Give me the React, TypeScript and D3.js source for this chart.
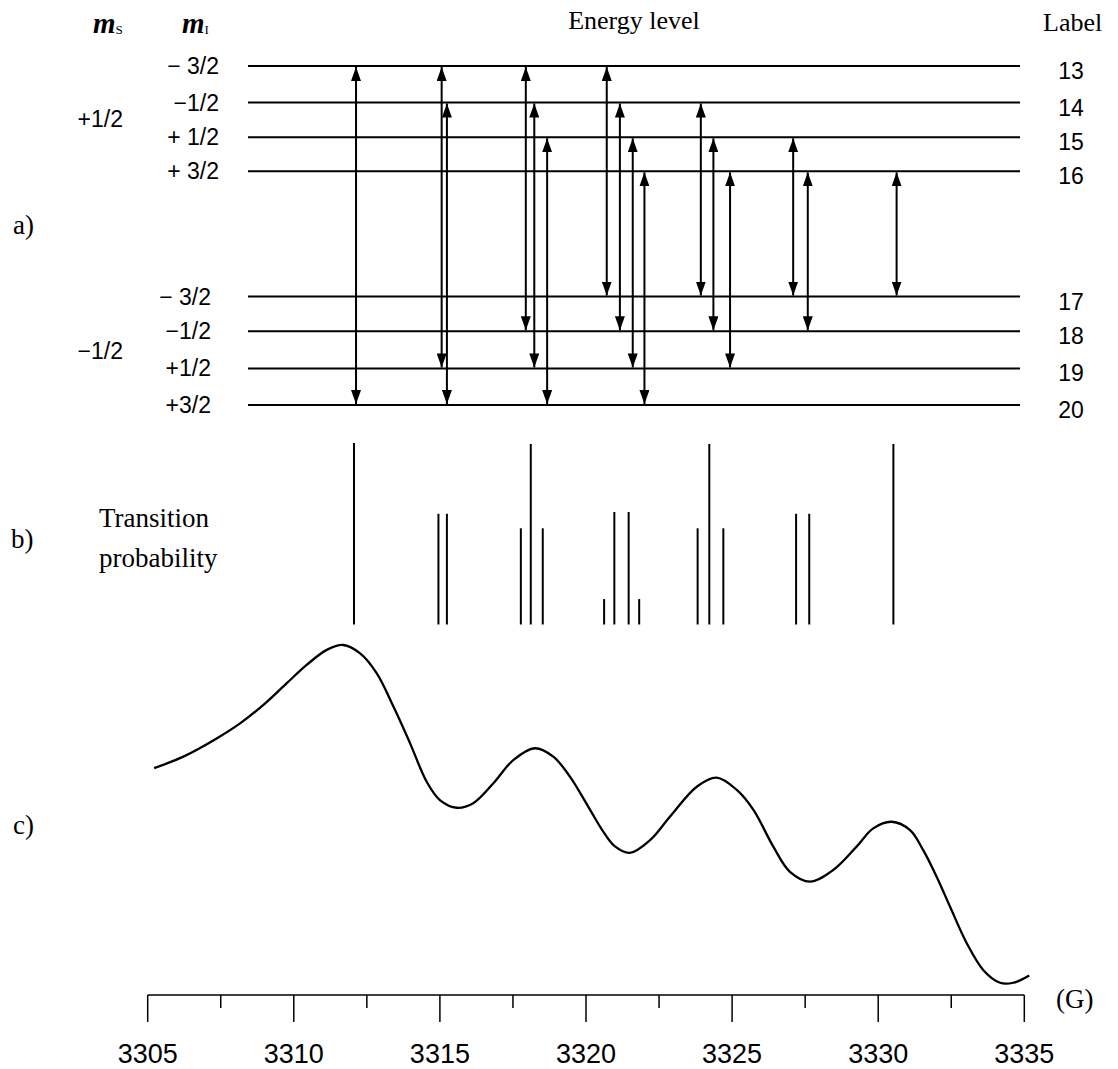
import React from "react";
import * as d3 from "d3";

// ---- Data ----
const levelLabels = [13, 14, 15, 16, 17, 18, 19, 20];
const levelEnergy = [9.75, 8.7, 7.7, 6.72, 3.12, 2.12, 1.05, 0];
const levelMI = ["− 3/2", "−1/2", "+ 1/2", "+ 3/2", "− 3/2", "−1/2", "+1/2", "+3/2"];
const msLabels = ["+1/2", "−1/2"];

const arrowField = [3312.13, 3315.06, 3315.24, 3317.94, 3318.23, 3318.67, 3320.71, 3321.16, 3321.6, 3322.0, 3323.93, 3324.36, 3324.93, 3327.09, 3327.59, 3330.63];
const arrowUpper = [13, 13, 14, 13, 14, 15, 13, 14, 15, 16, 14, 15, 16, 15, 16, 16];
const arrowLower = [20, 19, 20, 18, 19, 20, 17, 18, 19, 20, 17, 18, 19, 17, 18, 17];

const stickField = [3312.06, 3314.95, 3315.24, 3317.77, 3318.11, 3318.52, 3320.62, 3320.97, 3321.46, 3321.82, 3323.82, 3324.22, 3324.7, 3327.19, 3327.64, 3330.52];
const stickProb = [1.0, 0.61, 0.61, 0.53, 0.995, 0.53, 0.14, 0.62, 0.62, 0.14, 0.53, 0.995, 0.53, 0.61, 0.61, 0.995];

const spectrumField = [3305.22, 3306.22, 3307.36, 3308.16, 3308.96, 3309.76, 3310.44, 3311.13, 3311.69, 3312.27, 3312.84, 3313.41, 3313.98, 3314.55, 3315.0, 3315.58, 3316.14, 3316.83, 3317.51, 3318.25, 3318.88, 3319.45, 3320.14, 3320.55, 3320.97, 3321.5, 3322.2, 3322.87, 3323.79, 3324.47, 3325.16, 3325.73, 3326.41, 3326.98, 3327.67, 3328.46, 3329.26, 3329.83, 3330.46, 3331.09, 3331.54, 3332.0, 3332.46, 3333.03, 3333.6, 3334.17, 3334.62, 3335.17];
const spectrumIntensity = [64.8, 68.1, 73.3, 77.6, 82.9, 89.1, 94.3, 98.6, 100, 97.6, 91.9, 82.4, 71.9, 60.9, 55.7, 53.5, 54.8, 60.5, 67.1, 70.5, 68.1, 62.4, 52.9, 47.2, 42.6, 40.6, 44.3, 50.9, 59.5, 62.1, 58.6, 52.9, 42.4, 35.2, 32.4, 35.7, 42.4, 47.6, 49.5, 47.1, 41.4, 33.8, 25.2, 14.8, 7.1, 3.5, 3.5, 5.6];

const majorTicks = [3305, 3310, 3315, 3320, 3325, 3330, 3335];
const minorTicks = [3307.5, 3312.5, 3317.5, 3322.5, 3327.5, 3332.5];

// ---- Layout ----
const W = 1118;
const H = 1069;
const SANS = "'Liberation Sans', Arial, Helvetica, sans-serif";
const SERIF = "'Liberation Serif', 'Times New Roman', Times, serif";

const x = d3.scaleLinear().domain([3305, 3335]).range([147.7, 1024.3]);
const yLevel = d3.scaleLinear().domain([0, 9.75]).range([405, 66]);
const yStick = d3.scaleLinear().domain([0, 1]).range([624.5, 443]);
const ySpec = d3.scaleLinear().domain([0, 100]).range([995, 645]);

const levelX0 = 248;
const levelX1 = 1020;
const axisY = 995;

export default function App() {
  const levelY = (lab: number) => yLevel(levelEnergy[levelLabels.indexOf(lab)]);
  const specPts = spectrumField.map((f, i) => [f, spectrumIntensity[i]] as [number, number]);
  const line = d3
    .line<[number, number]>()
    .x((d) => x(d[0]))
    .y((d) => ySpec(d[1]))
    .curve(d3.curveCatmullRom.alpha(0.5));

  return (
    <svg
      width={W}
      height={H}
      viewBox={`0 0 ${W} ${H}`}
      style={{ position: "absolute", left: 0, top: 0, background: "#fff" }}
    >
      <defs>
        <marker
          id="ah"
          viewBox="0 0 14 10"
          refX={14}
          refY={5}
          markerWidth={14}
          markerHeight={10}
          markerUnits="userSpaceOnUse"
          orient="auto-start-reverse"
        >
          <path d="M0,0 L14,5 L0,10 Z" fill="#000" />
        </marker>
      </defs>
      <rect x={0} y={0} width={W} height={H} fill="#fff" />

      {/* Headers */}
      <text x={93} y={33} fontFamily={SERIF} fontStyle="italic" fontWeight="bold" fontSize={29} fill="#000">
        m<tspan fontStyle="normal" fontWeight="normal" fontSize={13} dy={1}>S</tspan>
      </text>
      <text x={182} y={33} fontFamily={SERIF} fontStyle="italic" fontWeight="bold" fontSize={29} fill="#000">
        m<tspan fontStyle="normal" fontWeight="normal" fontSize={13} dy={1}>I</tspan>
      </text>
      <text x={634} y={29} textAnchor="middle" fontFamily={SERIF} fontSize={26} fill="#000">
        Energy level
      </text>
      <text x={1043} y={31} fontFamily={SERIF} fontSize={26} fill="#000">
        Label
      </text>

      {/* Panel labels */}
      <text x={13} y={234} fontFamily={SERIF} fontSize={27} fill="#000">a)</text>
      <text x={11} y={548} fontFamily={SERIF} fontSize={27} fill="#000">b)</text>
      <text x={13} y={834} fontFamily={SERIF} fontSize={27} fill="#000">c)</text>
      <text fontFamily={SERIF} fontSize={27} fill="#000">
        <tspan x={99} y={527}>Transition</tspan>
        <tspan x={99} y={567}>probability</tspan>
      </text>

      {/* m_S labels */}
      <text x={123} y={(levelY(13) + levelY(16)) / 2 + 8} textAnchor="end" fontFamily={SANS} fontSize={23} fill="#000">
        {msLabels[0]}
      </text>
      <text x={123} y={(levelY(17) + levelY(20)) / 2 + 8} textAnchor="end" fontFamily={SANS} fontSize={23} fill="#000">
        {msLabels[1]}
      </text>

      {/* Energy levels */}
      {levelLabels.map((lab, i) => {
        const y = levelY(lab);
        return (
          <g key={lab}>
            <line x1={levelX0} x2={levelX1} y1={y} y2={y} stroke="#000" strokeWidth={2} />
            <text
              x={i < 4 ? 219 : 211}
              y={y + 8}
              textAnchor="end"
              fontFamily={SANS}
              fontSize={23}
              fill="#000"
            >
              {levelMI[i]}
            </text>
            <text x={1071} y={y + 13} textAnchor="middle" fontFamily={SANS} fontSize={23} fill="#000">
              {lab}
            </text>
          </g>
        );
      })}

      {/* Transitions */}
      {arrowField.map((f, i) => (
        <line
          key={i}
          x1={x(f)}
          x2={x(f)}
          y1={levelY(arrowUpper[i]) + 1}
          y2={levelY(arrowLower[i]) - 1}
          stroke="#000"
          strokeWidth={2}
          markerStart="url(#ah)"
          markerEnd="url(#ah)"
        />
      ))}

      {/* Stick spectrum */}
      {stickField.map((f, i) => (
        <line
          key={i}
          x1={x(f)}
          x2={x(f)}
          y1={yStick(0)}
          y2={yStick(stickProb[i])}
          stroke="#000"
          strokeWidth={2}
        />
      ))}

      {/* EPR spectrum */}
      <path d={line(specPts) || ""} fill="none" stroke="#000" strokeWidth={2.3} />

      {/* Axis */}
      <line x1={x(3305)} x2={x(3335)} y1={axisY} y2={axisY} stroke="#000" strokeWidth={1.5} />
      {majorTicks.map((t) => (
        <g key={t}>
          <line x1={x(t)} x2={x(t)} y1={axisY} y2={axisY + 27} stroke="#000" strokeWidth={1.5} />
          <text x={x(t)} y={1063} textAnchor="middle" fontFamily={SANS} fontSize={27} fill="#000">
            {t}
          </text>
        </g>
      ))}
      {minorTicks.map((t) => (
        <line key={t} x1={x(t)} x2={x(t)} y1={axisY} y2={axisY + 13} stroke="#000" strokeWidth={1.5} />
      ))}
      <text x={1056} y={1008} fontFamily={SERIF} fontSize={27} fill="#000">(G)</text>
    </svg>
  );
}
